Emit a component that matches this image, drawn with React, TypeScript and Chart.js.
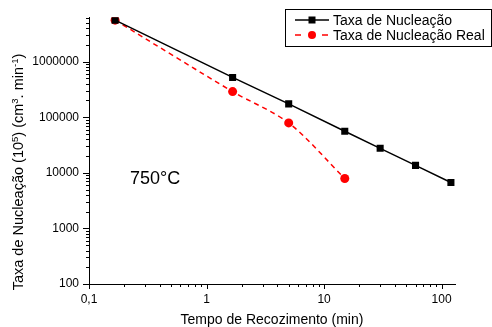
import React, { useEffect, useRef } from 'react';
import { Chart, registerables } from 'chart.js';

Chart.register(...registerables);

// ---- data ----
const annealTimes = [0.1667, 1.667, 5, 15, 30, 60, 120];
const nucleationRate = [5.58e6, 5.2e5, 1.74e5, 5.6e4, 2.76e4, 1.36e4, 6.7e3];
const realTimes = [0.1667, 1.667, 5, 15];
const realNucleationRate = [5.58e6, 2.89e5, 7.9e4, 7.9e3];

const xTickValues = [0.1, 1, 10, 100];
const xTickLabels = ['0,1', '1', '10', '100'];
const yTickValues = [100, 1000, 10000, 100000, 1000000];
const yTickLabels = ['100', '1000', '10000', '100000', '1000000'];

const seriesLabels = ['Taxa de Nucleação', 'Taxa de Nucleação Real'];
const temperatureLabel = '750°C';
const xTitle = 'Tempo de Recozimento (min)';
const yTitleParts: { t: string; sup?: boolean }[] = [
  { t: 'Taxa de Nucleação (10' },
  { t: '5', sup: true },
  { t: ') (cm' },
  { t: '3', sup: true },
  { t: '. min' },
  { t: '-1', sup: true },
  { t: ')' },
];

const FONT = 'Arial, "Liberation Sans", Helvetica, sans-serif';

function findLabel(values: number[], labels: string[], v: number) {
  const i = values.findIndex((a) => Math.abs(a - v) / a < 1e-6);
  return i >= 0 ? labels[i] : '';
}

const overlayPlugin = {
  id: 'overlay',
  afterDraw(chart: any) {
    const ctx = chart.ctx as CanvasRenderingContext2D;
    const xs = chart.scales.x;
    const ys = chart.scales.y;
    const area = chart.chartArea;
    const intMantissa = (v: number) => {
      const e = Math.floor(Math.log10(v) + 1e-9);
      const m = v / Math.pow(10, e);
      return Math.abs(m - Math.round(m)) < 1e-6;
    };
    const isMajor = (v: number) => Math.abs(Math.log10(v) - Math.round(Math.log10(v))) < 1e-6;

    ctx.save();
    // tick marks
    ctx.strokeStyle = '#000';
    ctx.lineWidth = 1;
    ctx.beginPath();
    xs.ticks.forEach((t: any) => {
      if (!intMantissa(t.value)) return;
      const px = Math.round(xs.getPixelForValue(t.value)) + 0.5;
      const len = isMajor(t.value) ? 5 : 3;
      ctx.moveTo(px, area.bottom);
      ctx.lineTo(px, area.bottom + len);
    });
    ys.ticks.forEach((t: any) => {
      if (!intMantissa(t.value)) return;
      const py = Math.round(ys.getPixelForValue(t.value)) + 0.5;
      const len = isMajor(t.value) ? 6 : 3;
      ctx.moveTo(area.left, py);
      ctx.lineTo(area.left - len, py);
    });
    ctx.stroke();

    // temperature label
    ctx.fillStyle = '#000';
    ctx.font = `18px ${FONT}`;
    ctx.textAlign = 'left';
    ctx.textBaseline = 'middle';
    ctx.fillText(temperatureLabel, 130, 179);

    // x title
    ctx.font = `14px ${FONT}`;
    ctx.textAlign = 'center';
    ctx.textBaseline = 'middle';
    ctx.fillText(xTitle, (area.left + area.right) / 2, 320);

    // y title with superscripts
    ctx.save();
    ctx.translate(18, 172);
    ctx.rotate(-Math.PI / 2);
    const mainFont = `14.5px ${FONT}`;
    const supFont = `9.5px ${FONT}`;
    let total = 0;
    yTitleParts.forEach((p) => {
      ctx.font = p.sup ? supFont : mainFont;
      total += ctx.measureText(p.t).width;
    });
    let cx = -total / 2;
    ctx.textAlign = 'left';
    ctx.textBaseline = 'alphabetic';
    yTitleParts.forEach((p) => {
      ctx.font = p.sup ? supFont : mainFont;
      ctx.fillText(p.t, cx, p.sup ? 0 : 5);
      cx += ctx.measureText(p.t).width;
    });
    ctx.restore();

    // legend
    const lx = 285.5, ly = 9.5, lw = 206, lh = 37;
    ctx.strokeStyle = '#000';
    ctx.lineWidth = 1;
    ctx.strokeRect(lx, ly, lw, lh);
    const rows = [20, 35];
    // row 1
    ctx.beginPath();
    ctx.lineWidth = 1.5;
    ctx.strokeStyle = '#000';
    ctx.moveTo(295, rows[0]);
    ctx.lineTo(329, rows[0]);
    ctx.stroke();
    ctx.fillStyle = '#000';
    ctx.fillRect(312 - 3.5, rows[0] - 3.5, 7, 7);
    // row 2
    ctx.strokeStyle = '#ff0000';
    ctx.beginPath();
    ctx.moveTo(295, rows[1]);
    ctx.lineTo(301, rows[1]);
    ctx.moveTo(322, rows[1]);
    ctx.lineTo(328, rows[1]);
    ctx.stroke();
    ctx.fillStyle = '#ff0000';
    ctx.beginPath();
    ctx.arc(312, rows[1], 4, 0, Math.PI * 2);
    ctx.fill();
    ctx.fillStyle = '#000';
    ctx.font = `14px ${FONT}`;
    ctx.textAlign = 'left';
    ctx.textBaseline = 'middle';
    ctx.fillText(seriesLabels[0], 333, rows[0] + 1);
    ctx.fillText(seriesLabels[1], 333, rows[1] + 1);
    ctx.restore();
  },
};

export default function App() {
  const canvasRef = useRef<HTMLCanvasElement | null>(null);

  useEffect(() => {
    if (!canvasRef.current) return;
    const chart = new Chart(canvasRef.current, {
      type: 'line',
      data: {
        datasets: [
          {
            label: seriesLabels[0],
            data: annealTimes.map((t, i) => ({ x: t, y: nucleationRate[i] })),
            borderColor: '#000',
            backgroundColor: '#000',
            borderWidth: 1.5,
            pointStyle: 'rect',
            pointRadius: 5,
            pointBorderWidth: 0,
            tension: 0,
          },
          {
            label: seriesLabels[1],
            data: realTimes.map((t, i) => ({ x: t, y: realNucleationRate[i] })),
            borderColor: '#ff0000',
            backgroundColor: '#ff0000',
            borderWidth: 1.5,
            borderDash: [5, 4],
            pointStyle: 'circle',
            pointRadius: 4.5,
            pointBorderWidth: 0,
            tension: 0.3,
          },
        ],
      },
      options: {
        responsive: false,
        animation: false,
        layout: { padding: { left: 0, top: 14, right: 37, bottom: 0 } },
        plugins: { legend: { display: false }, tooltip: { enabled: false } },
        scales: {
          x: {
            type: 'logarithmic',
            min: 0.1,
            max: 130,
            afterFit: (s: any) => {
              s.height = 43;
            },
            grid: { display: true, drawOnChartArea: false, drawTicks: false },
            border: { display: true, color: '#000', width: 1 },
            ticks: {
              autoSkip: false,
              maxRotation: 0,
              padding: 8,
              color: '#000',
              font: { family: FONT, size: 12 },
              callback: (v: any) => findLabel(xTickValues, xTickLabels, Number(v)),
            },
          },
          y: {
            type: 'logarithmic',
            min: 100,
            max: 6.3e6,
            afterFit: (s: any) => {
              s.width = 89;
            },
            grid: { display: true, drawOnChartArea: false, drawTicks: false },
            border: { display: true, color: '#000', width: 1 },
            ticks: {
              autoSkip: false,
              padding: 10,
              color: '#000',
              font: { family: FONT, size: 12 },
              callback: (v: any) => findLabel(yTickValues, yTickLabels, Number(v)),
            },
          },
        },
      },
      plugins: [overlayPlugin],
    } as any);
    return () => chart.destroy();
  }, []);

  return (
    <div style={{ position: 'absolute', left: 0, top: 0, width: 492, height: 327, background: '#fff' }}>
      <canvas ref={canvasRef} width={492} height={327} style={{ display: 'block' }} />
    </div>
  );
}
